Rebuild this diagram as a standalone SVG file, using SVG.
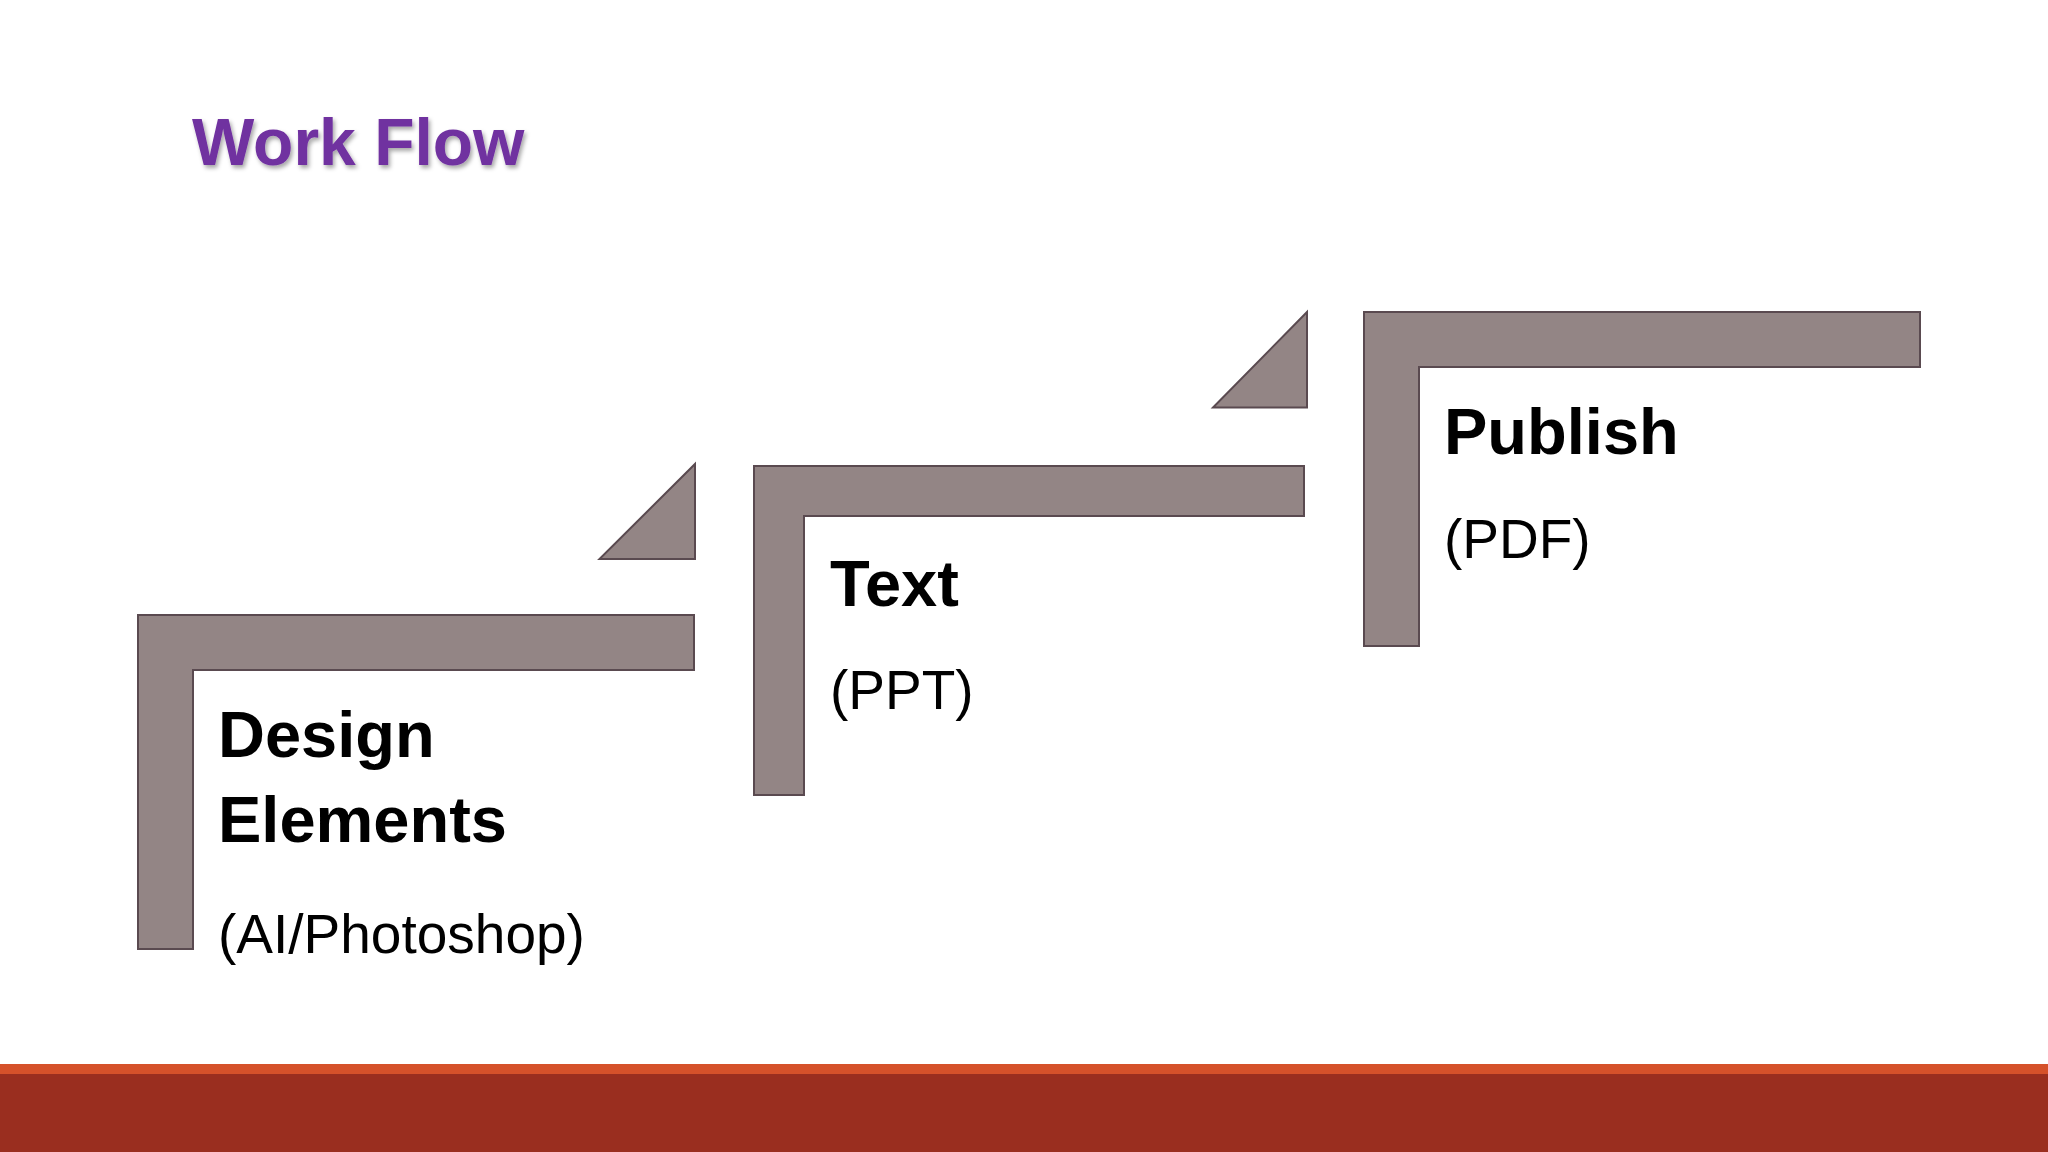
<svg xmlns="http://www.w3.org/2000/svg" width="2048" height="1152" viewBox="0 0 2048 1152">
<defs>
<style>
.shape{fill:#938585;stroke:#5a4a50;stroke-width:2}
.h{font-family:"Liberation Sans",Arial,sans-serif;font-weight:bold;font-size:65px;fill:#000}
.s{font-family:"Liberation Sans",Arial,sans-serif;font-size:55px;fill:#000}
</style>
<filter id="sh" x="-10%" y="-10%" width="130%" height="140%"><feDropShadow dx="2" dy="3" stdDeviation="2" flood-color="#000" flood-opacity="0.35"/></filter>
</defs>
<rect width="2048" height="1152" fill="#fff"/>
<text x="192" y="165" font-family="Liberation Sans,Arial,sans-serif" font-weight="bold" font-size="66" fill="#7030A0" filter="url(#sh)">Work Flow</text>
<g id="connectors">
<polygon class="shape" points="599.5,559 695,559 695,464"/>
<polygon class="shape" points="1213,407.5 1307,407.5 1307,312"/>
</g>
<g id="node1">
<polygon class="shape" points="138,615 694,615 694,670 193,670 193,949 138,949"/>
<text class="h" x="218" y="757">Design</text>
<text class="h" x="218" y="842">Elements</text>
<text class="s" x="218" y="953">(AI/Photoshop)</text>
</g>
<g id="node2">
<polygon class="shape" points="754,466 1304,466 1304,516 804,516 804,795 754,795"/>
<text class="h" x="830" y="606">Text</text>
<text class="s" x="830" y="709">(PPT)</text>
</g>
<g id="node3">
<polygon class="shape" points="1364,312 1920,312 1920,367 1419,367 1419,646 1364,646"/>
<text class="h" x="1444" y="454">Publish</text>
<text class="s" x="1444" y="558">(PDF)</text>
</g>
<rect x="0" y="1064" width="2048" height="10" fill="#D5512A"/>
<rect x="0" y="1074" width="2048" height="78" fill="#9A2E1F"/>
</svg>
